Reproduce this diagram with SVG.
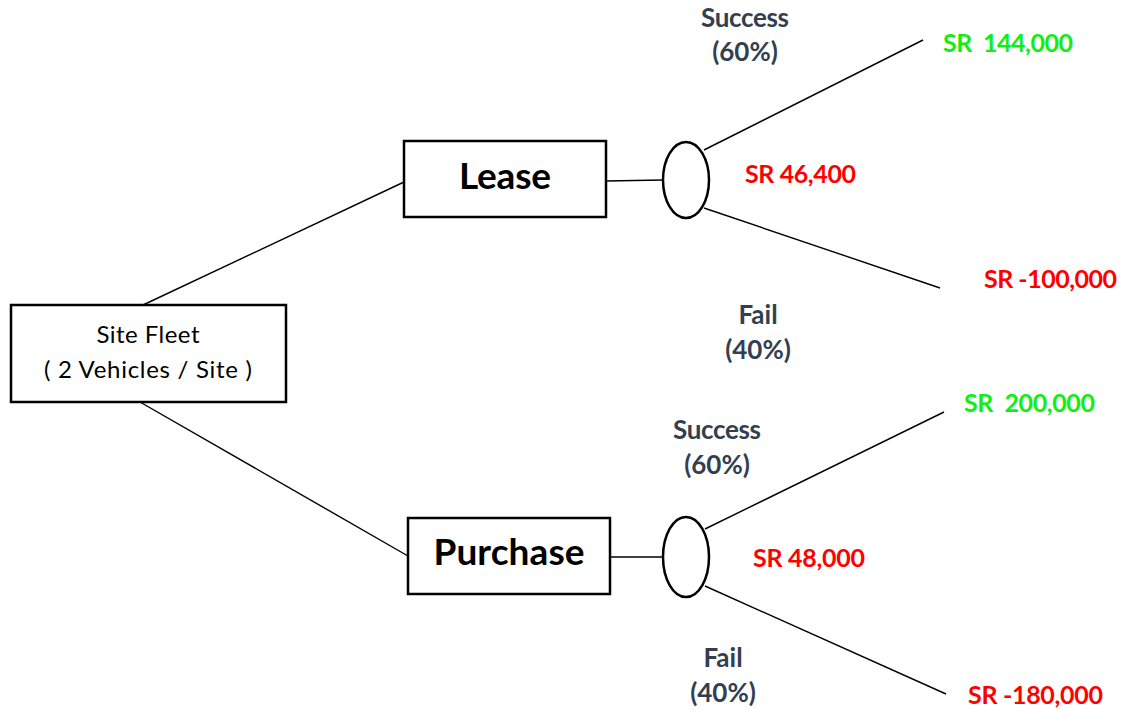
<svg xmlns="http://www.w3.org/2000/svg" width="1125" height="710" viewBox="0 0 1125 710">
<style>
.box{fill:#fff;stroke:#000;stroke-width:2.5}
.chance{fill:#fff;stroke:#000;stroke-width:2.5}
.ln{stroke:#000;stroke-width:1.4;fill:none}
.main{font-family:Lato,"Open Sans",sans-serif;font-weight:bold;font-size:37px;fill:#000;text-anchor:middle}
.root{font-family:Lato,"Open Sans",sans-serif;font-size:24px;fill:#000;text-anchor:middle}
.prob{font-family:Lato,"Open Sans",sans-serif;font-weight:bold;font-size:26px;fill:#333F4F;text-anchor:middle}
.val{font-family:Lato,"Open Sans",sans-serif;font-weight:bold;font-size:25px}
.red{fill:#FF0000}
.green{fill:#11EE11}
</style>
<rect width="1125" height="710" fill="#fff"/>
<g id="connectors">
<line class="ln" x1="143" y1="305" x2="404" y2="182"/>
<line class="ln" x1="140" y1="402" x2="408" y2="556"/>
<line class="ln" x1="606" y1="181" x2="663" y2="180"/>
<line class="ln" x1="610" y1="557" x2="663" y2="557"/>
<line class="ln" x1="704" y1="150" x2="923" y2="40"/>
<line class="ln" x1="704" y1="208" x2="940" y2="288"/>
<line class="ln" x1="705" y1="529" x2="944" y2="412"/>
<line class="ln" x1="705" y1="586" x2="946" y2="694"/>
</g>
<g id="site-fleet">
<rect class="box" x="11" y="305" width="275" height="97"/>
<text class="root" x="148" y="343" textLength="103">Site Fleet</text>
<text class="root" x="148" y="378" textLength="208">( 2 Vehicles / Site )</text>
</g>
<g id="lease">
<rect class="box" x="404" y="141" width="202" height="76"/>
<text class="main" x="505" y="189" textLength="92">Lease</text>
</g>
<g id="purchase">
<rect class="box" x="408" y="518" width="202" height="76"/>
<text class="main" x="509" y="565" textLength="151">Purchase</text>
</g>
<g id="lease-chance">
<ellipse class="chance" cx="686" cy="180" rx="23" ry="38"/>
</g>
<g id="purchase-chance">
<ellipse class="chance" cx="686" cy="557" rx="23" ry="40"/>
</g>
<g id="lease-labels">
<text class="prob" x="745" y="27" textLength="88">Success</text>
<text class="prob" x="745" y="61">(60%)</text>
<text class="prob" x="758" y="324">Fail</text>
<text class="prob" x="758" y="359">(40%)</text>
<text class="val green" x="943" y="52" textLength="130" xml:space="preserve">SR  144,000</text>
<text class="val red" x="745" y="183" textLength="111">SR 46,400</text>
<text class="val red" x="984" y="288" textLength="133">SR -100,000</text>
</g>
<g id="purchase-labels">
<text class="prob" x="717" y="439" textLength="88">Success</text>
<text class="prob" x="717" y="474">(60%)</text>
<text class="prob" x="723" y="667">Fail</text>
<text class="prob" x="723" y="702">(40%)</text>
<text class="val green" x="964" y="412" textLength="131" xml:space="preserve">SR  200,000</text>
<text class="val red" x="753" y="567" textLength="112">SR 48,000</text>
<text class="val red" x="968" y="704" textLength="135">SR -180,000</text>
</g>
</svg>
